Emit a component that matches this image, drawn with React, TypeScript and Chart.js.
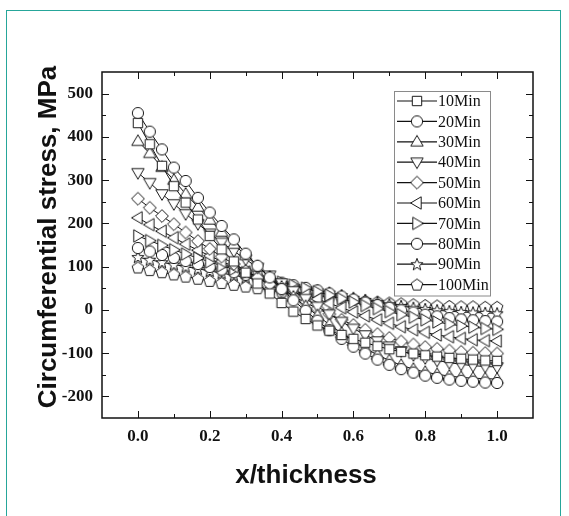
import React, { useEffect, useRef } from 'react';
import { Chart, registerables } from 'chart.js';
Chart.register(...registerables);

// x/thickness sample positions
const xPos = [0, 0.033, 0.067, 0.1, 0.133, 0.167, 0.2, 0.233, 0.267, 0.3, 0.333, 0.367, 0.4, 0.433, 0.467, 0.5,
  0.533, 0.567, 0.6, 0.633, 0.667, 0.7, 0.733, 0.767, 0.8, 0.833, 0.867, 0.9, 0.933, 0.967, 1.0];

const seriesNames = ['10Min', '20Min', '30Min', '40Min', '50Min', '60Min', '70Min', '80Min', '90Min', '100Min'];

const s10 = [432, 383, 333, 286, 248, 209, 171, 140, 112, 86, 61, 38, 16, -4, -21, -36, -48, -58, -67, -76, -84, -91, -97, -101, -105, -108, -111, -113, -115, -117, -118];
const s20 = [455, 412, 371, 329, 298, 259, 225, 194, 163, 130, 102, 75, 48, 22, -2, -25, -47, -67, -85, -101, -115, -127, -137, -145, -152, -157, -161, -164, -166, -168, -169];
const s30 = [390, 362, 330, 300, 268, 238, 208, 180, 152, 126, 100, 76, 53, 30, 8, -13, -34, -54, -72, -89, -104, -117, -128, -137, -144, -149, -153, -156, -158, -159, -160];
const s40 = [317, 294, 268, 245, 222, 199, 177, 156, 136, 117, 98, 80, 62, 44, 26, 8, -10, -27, -43, -58, -72, -84, -95, -104, -111, -117, -122, -126, -129, -131, -132];
const s50 = [257, 236, 217, 198, 179, 159, 141, 123, 106, 90, 74, 59, 45, 31, 17, 3, -10, -23, -35, -46, -56, -65, -73, -80, -86, -90, -94, -97, -99, -100, -101];
const s60 = [213, 197, 182, 167, 152, 138, 125, 112, 100, 88, 77, 66, 55, 45, 35, 25, 15, 5, -5, -14, -23, -31, -39, -46, -52, -58, -62, -66, -69, -71, -72];
const s70 = [171, 160, 149, 139, 129, 120, 111, 102, 94, 86, 78, 71, 64, 57, 50, 42, 34, 26, 18, 10, 3, -4, -11, -17, -23, -28, -33, -37, -40, -43, -45];
const s80 = [143, 135, 127, 120, 113, 106, 99, 93, 87, 81, 75, 69, 63, 57, 51, 45, 38, 31, 24, 17, 11, 5, -1, -6, -11, -15, -19, -22, -24, -26, -27];
const s90 = [122, 116, 110, 105, 100, 95, 90, 85, 80, 75, 70, 65, 60, 55, 50, 45, 40, 34, 28, 23, 18, 13, 9, 5, 2, -1, -3, -5, -6, -7, -8];
const s100 = [98, 92, 87, 82, 77, 72, 67, 62, 58, 54, 50, 46, 42, 39, 36, 33, 30, 27, 24, 21, 19, 17, 15, 13, 11, 10, 9, 8, 8, 7, 7];

const seriesValues = [s10, s20, s30, s40, s50, s60, s70, s80, s90, s100];
const markerShapes = ['square', 'circle', 'triUp', 'triDown', 'diamond', 'triLeft', 'triRight', 'circle', 'star', 'pentagon'];

const xTickLabels = ['0.0', '0.2', '0.4', '0.6', '0.8', '1.0'];
const yTickLabels = ['-200', '-100', '0', '100', '200', '300', '400', '500'];

function makeMarker(shape: string): HTMLCanvasElement {
  const c = document.createElement('canvas');
  c.width = 16; c.height = 16;
  const ctx = c.getContext('2d')!;
  ctx.fillStyle = '#ffffff';
  ctx.strokeStyle = '#1a1a1a';
  ctx.lineWidth = 1;
  const cx = 8, cy = 8;
  ctx.beginPath();
  const poly = (pts: number[][]) => {
    pts.forEach((p, i) => (i ? ctx.lineTo(cx + p[0], cy + p[1]) : ctx.moveTo(cx + p[0], cy + p[1])));
    ctx.closePath();
  };
  switch (shape) {
    case 'square': ctx.rect(cx - 4.7, cy - 4.7, 9.4, 9.4); break;
    case 'circle': ctx.arc(cx, cy, 5.6, 0, Math.PI * 2); break;
    case 'triUp': poly([[0, -6.4], [6.2, 4.2], [-6.2, 4.2]]); break;
    case 'triDown': poly([[0, 6.4], [6.2, -4.2], [-6.2, -4.2]]); break;
    case 'triLeft': poly([[-6.4, 0], [4.2, -6.2], [4.2, 6.2]]); break;
    case 'triRight': poly([[6.4, 0], [-4.2, -6.2], [-4.2, 6.2]]); break;
    case 'diamond': poly([[0, -6.4], [6.4, 0], [0, 6.4], [-6.4, 0]]); break;
    case 'star': {
      const pts: number[][] = [];
      for (let i = 0; i < 10; i++) {
        const r = i % 2 === 0 ? 6.4 : 2.7;
        const a = -Math.PI / 2 + (i * Math.PI) / 5;
        pts.push([r * Math.cos(a), r * Math.sin(a) + 0.5]);
      }
      poly(pts);
      break;
    }
    case 'pentagon': {
      const pts: number[][] = [];
      for (let i = 0; i < 5; i++) {
        const a = -Math.PI / 2 + (i * 2 * Math.PI) / 5;
        pts.push([6.1 * Math.cos(a), 6.1 * Math.sin(a) + 0.5]);
      }
      poly(pts);
      break;
    }
  }
  ctx.fill();
  ctx.stroke();
  return c;
}

const frameAndTicks = {
  id: 'frameAndTicks',
  afterDatasetsDraw(chart: any) {
    const { ctx, chartArea: a, scales } = chart;
    const xs = scales.x, ys = scales.y;
    ctx.save();
    ctx.strokeStyle = '#111';
    ctx.lineWidth = 1;
    for (let k = 0; k <= 10; k++) {
      const v = k / 10;
      const px = Math.round(xs.getPixelForValue(v)) + 0.5;
      const len = k % 2 === 0 ? 7 : 4;
      ctx.beginPath();
      ctx.moveTo(px, a.bottom); ctx.lineTo(px, a.bottom - len);
      ctx.moveTo(px, a.top); ctx.lineTo(px, a.top + len);
      ctx.stroke();
    }
    for (let v = -200; v <= 500; v += 50) {
      const py = Math.round(ys.getPixelForValue(v)) + 0.5;
      const len = v % 100 === 0 ? 7 : 4;
      ctx.beginPath();
      ctx.moveTo(a.left, py); ctx.lineTo(a.left + len, py);
      ctx.moveTo(a.right, py); ctx.lineTo(a.right - len, py);
      ctx.stroke();
    }
    ctx.lineWidth = 1.5;
    ctx.strokeRect(a.left, a.top, a.right - a.left, a.bottom - a.top);
    ctx.restore();
  },
  afterDraw(chart: any) {
    const { ctx, chartArea: a } = chart;
    ctx.save();
    ctx.fillStyle = '#111';
    ctx.font = 'bold 26px "Liberation Sans", Arial, sans-serif';
    ctx.textAlign = 'center';
    ctx.textBaseline = 'alphabetic';
    ctx.fillText('x/thickness', 306, 483);
    ctx.translate(56, (a.top + a.bottom) / 2 - 8);
    ctx.rotate(-Math.PI / 2);
    ctx.fillText('Circumferential stress, MPa', 0, 0);
    ctx.restore();

    // legend
    ctx.save();
    const lx = 394, ly = 91, lw = 96, rowH = 20.4;
    const lh = rowH * seriesNames.length + 0.5;
    ctx.fillStyle = '#fff';
    ctx.fillRect(lx, ly, lw, lh);
    ctx.strokeStyle = '#8a8a8a';
    ctx.lineWidth = 1;
    ctx.strokeRect(lx + 0.5, ly + 0.5, lw, lh);
    chart.data.datasets.forEach((ds: any, i: number) => {
      const cy = ly + 10 + i * rowH;
      ctx.strokeStyle = '#111';
      ctx.lineWidth = 1.2;
      ctx.beginPath();
      ctx.moveTo(lx + 3, cy); ctx.lineTo(lx + 43, cy);
      ctx.stroke();
      const img = ds.pointStyle as HTMLCanvasElement;
      ctx.drawImage(img, lx + 23 - img.width / 2, cy - img.height / 2);
      ctx.fillStyle = '#111';
      ctx.font = '16px "Liberation Serif", "Times New Roman", serif';
      ctx.textAlign = 'left';
      ctx.textBaseline = 'middle';
      ctx.fillText(ds.label, lx + 44, cy + 1);
    });
    ctx.restore();
  },
};

export default function App() {
  const ref = useRef<HTMLCanvasElement>(null);
  useEffect(() => {
    if (!ref.current) return;
    const datasets = seriesNames.map((name, i) => ({
      label: name,
      data: xPos.map((x, j) => ({ x, y: seriesValues[i][j] })),
      borderColor: '#111',
      borderWidth: 1,
      pointStyle: makeMarker(markerShapes[i]) as any,
      pointRadius: 6,
      fill: false,
      tension: 0,
    }));
    const tickFont = { family: '"Liberation Serif", "Times New Roman", serif', size: 17, weight: 'bold' as const };
    const chart = new Chart(ref.current, {
      type: 'line',
      data: { datasets },
      options: {
        animation: false,
        responsive: false,
        devicePixelRatio: 1,
        layout: { padding: { left: 0, top: 72, right: 36, bottom: 0 } },
        plugins: { legend: { display: false }, tooltip: { enabled: false } },
        scales: {
          x: {
            type: 'linear',
            min: -0.1,
            max: 1.1,
            grid: { display: false, drawTicks: false },
            border: { display: false },
            afterFit: (s: any) => { s.height = 98; },
            ticks: {
              stepSize: 0.1,
              autoSkip: false,
              maxRotation: 0,
              padding: 8,
              color: '#111',
              font: tickFont,
              callback: (v: any) => {
                const k = Math.round(Number(v) * 10);
                if (k < 0 || k > 10 || k % 2 !== 0) return '';
                return xTickLabels[k / 2];
              },
            },
          },
          y: {
            type: 'linear',
            min: -250,
            max: 550,
            grid: { display: false, drawTicks: false },
            border: { display: false },
            afterFit: (s: any) => { s.width = 102; },
            ticks: {
              stepSize: 50,
              autoSkip: false,
              padding: 9,
              color: '#111',
              font: tickFont,
              callback: (v: any) => {
                const n = Math.round(Number(v));
                if (n % 100 !== 0 || n < -200 || n > 500) return '';
                return yTickLabels[(n + 200) / 100];
              },
            },
          },
        },
      },
      plugins: [frameAndTicks],
    });
    return () => chart.destroy();
  }, []);
  return (
    <div style={{ position: 'fixed', left: 0, top: 0, width: 569, height: 516, background: '#fff', overflow: 'hidden' }}>
      <div style={{ position: 'absolute', left: 6, top: 10, width: 555, height: 520, border: '1.5px solid #26a69a', boxSizing: 'border-box' }} />
      <canvas ref={ref} width={569} height={516} style={{ position: 'absolute', left: 0, top: 0, display: 'block' }} />
    </div>
  );
}
